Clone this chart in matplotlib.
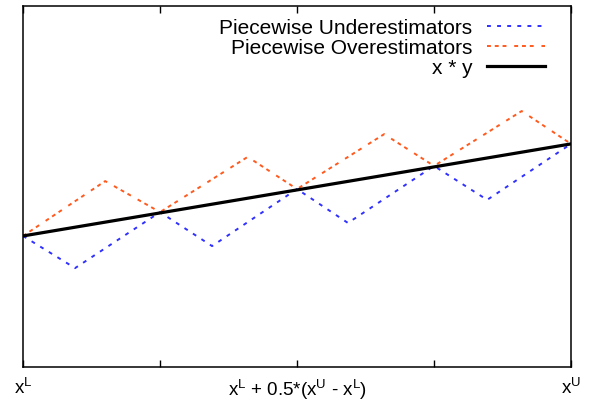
import matplotlib
matplotlib.use("Agg")
import matplotlib.pyplot as plt

plt.rcParams['font.family'] = ['Liberation Sans', 'DejaVu Sans']
plt.rcParams['mathtext.fontset'] = 'custom'
plt.rcParams['mathtext.rm'] = 'Liberation Sans'
plt.rcParams['mathtext.it'] = 'Liberation Sans'
plt.rcParams['mathtext.default'] = 'regular'

# Data (x normalized 0..1 from x^L to x^U; y normalized 0..1 over axis height)
x_line = [0.0, 1.0]
y_line = [0.363, 0.618]

x_under = [0.0, 0.095, 0.25, 0.345, 0.5, 0.593, 0.75, 0.847, 1.0]
y_under = [0.363, 0.274, 0.429, 0.335, 0.493, 0.399, 0.557, 0.463, 0.618]

x_over = [0.0, 0.150, 0.25, 0.410, 0.5, 0.659, 0.75, 0.910, 1.0]
y_over = [0.363, 0.515, 0.429, 0.582, 0.493, 0.645, 0.557, 0.709, 0.618]

tick_pos = [0.0, 0.25, 0.5, 0.75, 1.0]
tick_labels = [r'x$^{L}$', '', r'x$^{L}$ + 0.5*(x$^{U}$ - x$^{L}$)', '', r'x$^{U}$']

labels = ['Piecewise Underestimators', 'Piecewise Overestimators', 'x * y']

fig = plt.figure(figsize=(5.89, 4.08), dpi=100)
ax = fig.add_axes([23/589, 1 - 367/408, (571 - 23)/589, (367 - 6)/408])

blue = '#3030ff'
orange = '#ff5a1e'
l1, = ax.plot(x_under, y_under, color=blue, lw=1.4, dashes=(2.0, 3.2))
l2, = ax.plot(x_over, y_over, color=orange, lw=1.4, dashes=(2.0, 2.0, 2.0, 2.0, 2.0, 4.0))
l3, = ax.plot(x_line, y_line, color='black', lw=2.3)

ax.set_xlim(0, 1)
ax.set_ylim(0, 1)
ax.set_xticks(tick_pos)
ax.set_xticklabels(tick_labels, fontsize=13.5)
ax.set_yticks([])
ax.tick_params(axis='x', direction='in', length=5, width=1, top=True, pad=8)
for s in ax.spines.values():
    s.set_linewidth(1.1)

leg = ax.legend([l1, l2, l3], labels, loc='upper right', bbox_to_anchor=(0.976, 1.0),
                frameon=False, markerfirst=False, fontsize=15, handlelength=2.8,
                labelspacing=0.05, handletextpad=0.7, borderaxespad=0.2)

fig.savefig('out.png', dpi=100)
